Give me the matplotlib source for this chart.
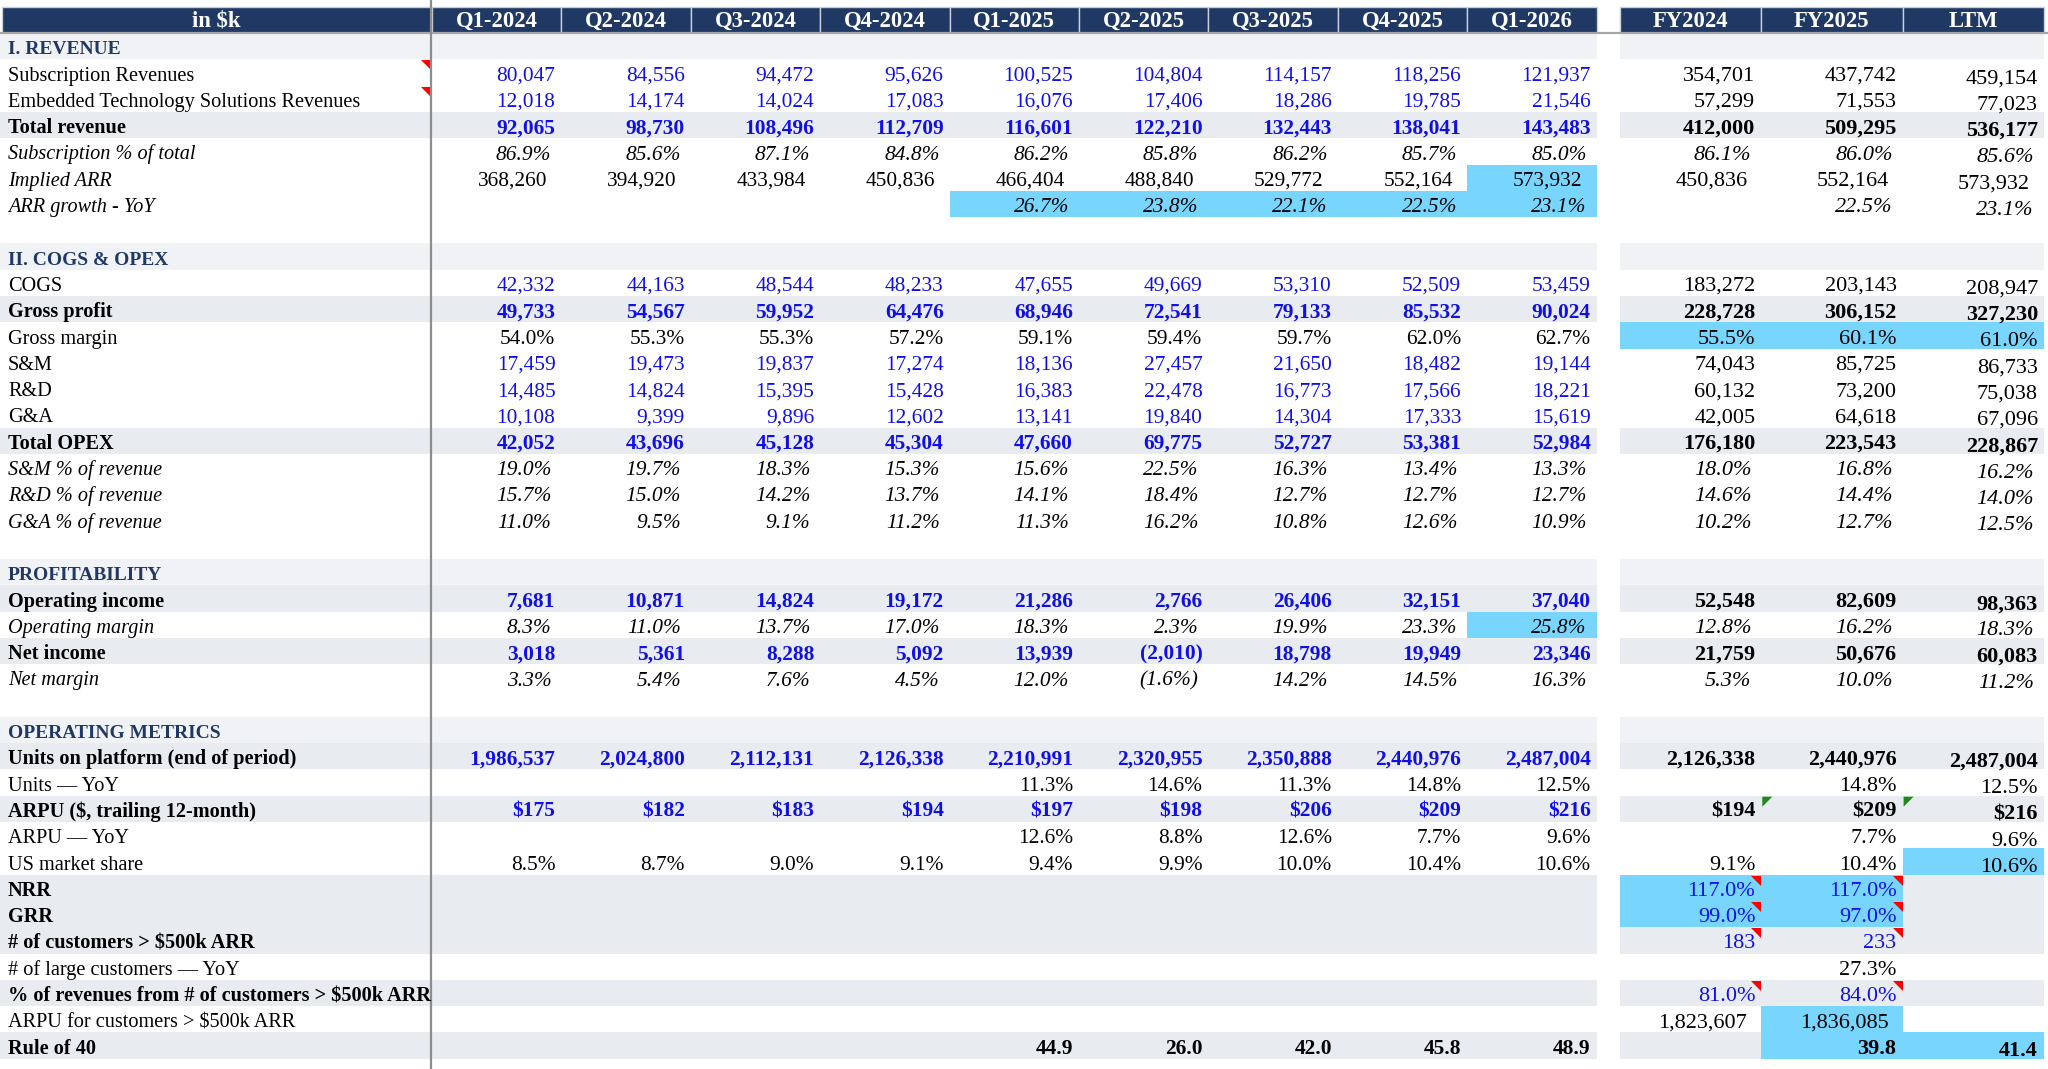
import matplotlib
matplotlib.use("Agg")
import matplotlib.pyplot as plt
from matplotlib.patches import Rectangle, Polygon

plt.rcParams['font.family'] = ['Liberation Serif', 'DejaVu Serif']

# ---- data -------------------------------------------------------------
quarters = ['Q1-2024', 'Q2-2024', 'Q3-2024', 'Q4-2024', 'Q1-2025',
            'Q2-2025', 'Q3-2025', 'Q4-2025', 'Q1-2026']
periods = ['FY2024', 'FY2025', 'LTM']
N = None

sub_rev = [80047, 84556, 94472, 95626, 100525, 104804, 114157, 118256, 121937]
emb_rev = [12018, 14174, 14024, 17083, 16076, 17406, 18286, 19785, 21546]
total_rev = [92065, 98730, 108496, 112709, 116601, 122210, 132443, 138041, 143483]
sub_pct = [86.9, 85.6, 87.1, 84.8, 86.2, 85.8, 86.2, 85.7, 85.0]
implied_arr = [368260, 394920, 433984, 450836, 466404, 488840, 529772, 552164, 573932]
arr_growth = [N, N, N, N, 26.7, 23.8, 22.1, 22.5, 23.1]
cogs = [42332, 44163, 48544, 48233, 47655, 49669, 53310, 52509, 53459]
gross_profit = [49733, 54567, 59952, 64476, 68946, 72541, 79133, 85532, 90024]
gross_margin = [54.0, 55.3, 55.3, 57.2, 59.1, 59.4, 59.7, 62.0, 62.7]
sm = [17459, 19473, 19837, 17274, 18136, 27457, 21650, 18482, 19144]
rd = [14485, 14824, 15395, 15428, 16383, 22478, 16773, 17566, 18221]
ga = [10108, 9399, 9896, 12602, 13141, 19840, 14304, 17333, 15619]
total_opex = [42052, 43696, 45128, 45304, 47660, 69775, 52727, 53381, 52984]
sm_pct = [19.0, 19.7, 18.3, 15.3, 15.6, 22.5, 16.3, 13.4, 13.3]
rd_pct = [15.7, 15.0, 14.2, 13.7, 14.1, 18.4, 12.7, 12.7, 12.7]
ga_pct = [11.0, 9.5, 9.1, 11.2, 11.3, 16.2, 10.8, 12.6, 10.9]
op_income = [7681, 10871, 14824, 19172, 21286, 2766, 26406, 32151, 37040]
op_margin = [8.3, 11.0, 13.7, 17.0, 18.3, 2.3, 19.9, 23.3, 25.8]
net_income = [3018, 5361, 8288, 5092, 13939, -2010, 18798, 19949, 23346]
net_margin = [3.3, 5.4, 7.6, 4.5, 12.0, -1.6, 14.2, 14.5, 16.3]
units = [1986537, 2024800, 2112131, 2126338, 2210991, 2320955, 2350888, 2440976, 2487004]
units_yoy = [N, N, N, N, 11.3, 14.6, 11.3, 14.8, 12.5]
arpu = [175, 182, 183, 194, 197, 198, 206, 209, 216]
arpu_yoy = [N, N, N, N, 12.6, 8.8, 12.6, 7.7, 9.6]
market_share = [8.5, 8.7, 9.0, 9.1, 9.4, 9.9, 10.0, 10.4, 10.6]
rule40 = [N, N, N, N, 44.9, 26.0, 42.0, 45.8, 48.9]
empty_q = [N] * 9

fy_sub_rev = [354701, 437742, 459154]
fy_emb_rev = [57299, 71553, 77023]
fy_total_rev = [412000, 509295, 536177]
fy_sub_pct = [86.1, 86.0, 85.6]
fy_implied_arr = [450836, 552164, 573932]
fy_arr_growth = [N, 22.5, 23.1]
fy_cogs = [183272, 203143, 208947]
fy_gross_profit = [228728, 306152, 327230]
fy_gross_margin = [55.5, 60.1, 61.0]
fy_sm = [74043, 85725, 86733]
fy_rd = [60132, 73200, 75038]
fy_ga = [42005, 64618, 67096]
fy_total_opex = [176180, 223543, 228867]
fy_sm_pct = [18.0, 16.8, 16.2]
fy_rd_pct = [14.6, 14.4, 14.0]
fy_ga_pct = [10.2, 12.7, 12.5]
fy_op_income = [52548, 82609, 98363]
fy_op_margin = [12.8, 16.2, 18.3]
fy_net_income = [21759, 50676, 60083]
fy_net_margin = [5.3, 10.0, 11.2]
fy_units = [2126338, 2440976, 2487004]
fy_units_yoy = [N, 14.8, 12.5]
fy_arpu = [194, 209, 216]
fy_arpu_yoy = [N, 7.7, 9.6]
fy_market_share = [9.1, 10.4, 10.6]
fy_nrr = [117.0, 117.0, N]
fy_grr = [99.0, 97.0, N]
fy_big_customers = [183, 233, N]
fy_big_customers_yoy = [N, 27.3, N]
fy_big_rev_pct = [81.0, 84.0, N]
fy_big_arpu = [1823607, 1836085, N]
fy_rule40 = [N, 39.8, 41.4]
empty_fy = [N] * 3

# row: label, label style, band, format, q values, fy values,
#      q blue, fy blue, value weight, value italic, right pad (q, fy)
P0 = (6, 6)
PI = (10, 10)
rows = [
    ('I. REVENUE', 'sec', 'sec', 'num', empty_q, empty_fy, 0, 0, 'normal', 0, P0),
    ('Subscription Revenues', 'reg', None, 'num', sub_rev, fy_sub_rev, 1, 0, 'normal', 0, P0),
    ('Embedded Technology Solutions Revenues', 'reg', None, 'num', emb_rev, fy_emb_rev, 1, 0, 'normal', 0, P0),
    ('Total revenue', 'bold', 'band', 'num', total_rev, fy_total_rev, 1, 0, 'bold', 0, P0),
    ('Subscription % of total', 'ital', None, 'pct', sub_pct, fy_sub_pct, 0, 0, 'normal', 1, PI),
    ('Implied ARR', 'ital', None, 'num', implied_arr, fy_implied_arr, 0, 0, 'normal', 0, (14, 14)),
    ('ARR growth - YoY', 'ital', None, 'pct', arr_growth, fy_arr_growth, 0, 0, 'normal', 1, PI),
    ('', 'reg', None, 'num', empty_q, empty_fy, 0, 0, 'normal', 0, P0),
    ('II. COGS & OPEX', 'sec', 'sec', 'num', empty_q, empty_fy, 0, 0, 'normal', 0, P0),
    ('COGS', 'reg', None, 'num', cogs, fy_cogs, 1, 0, 'normal', 0, P0),
    ('Gross profit', 'bold', 'band', 'num', gross_profit, fy_gross_profit, 1, 0, 'bold', 0, P0),
    ('Gross margin', 'reg', None, 'pct', gross_margin, fy_gross_margin, 0, 0, 'normal', 0, P0),
    ('S&M', 'reg', None, 'num', sm, fy_sm, 1, 0, 'normal', 0, P0),
    ('R&D', 'reg', None, 'num', rd, fy_rd, 1, 0, 'normal', 0, P0),
    ('G&A', 'reg', None, 'num', ga, fy_ga, 1, 0, 'normal', 0, P0),
    ('Total OPEX', 'bold', 'band', 'num', total_opex, fy_total_opex, 1, 0, 'bold', 0, P0),
    ('S&M % of revenue', 'ital', None, 'pct', sm_pct, fy_sm_pct, 0, 0, 'normal', 1, PI),
    ('R&D % of revenue', 'ital', None, 'pct', rd_pct, fy_rd_pct, 0, 0, 'normal', 1, PI),
    ('G&A % of revenue', 'ital', None, 'pct', ga_pct, fy_ga_pct, 0, 0, 'normal', 1, PI),
    ('', 'reg', None, 'num', empty_q, empty_fy, 0, 0, 'normal', 0, P0),
    ('PROFITABILITY', 'sec', 'sec', 'num', empty_q, empty_fy, 0, 0, 'normal', 0, P0),
    ('Operating income', 'bold', 'band', 'num', op_income, fy_op_income, 1, 0, 'bold', 0, P0),
    ('Operating margin', 'ital', None, 'pct', op_margin, fy_op_margin, 0, 0, 'normal', 1, PI),
    ('Net income', 'bold', 'band', 'num', net_income, fy_net_income, 1, 0, 'bold', 0, P0),
    ('Net margin', 'ital', None, 'pct', net_margin, fy_net_margin, 0, 0, 'normal', 1, PI),
    ('', 'reg', None, 'num', empty_q, empty_fy, 0, 0, 'normal', 0, P0),
    ('OPERATING METRICS', 'sec', 'sec', 'num', empty_q, empty_fy, 0, 0, 'normal', 0, P0),
    ('Units on platform (end of period)', 'bold', 'band', 'num', units, fy_units, 1, 0, 'bold', 0, P0),
    ('Units \u2014 YoY', 'reg', None, 'pct', units_yoy, fy_units_yoy, 0, 0, 'normal', 0, P0),
    ('ARPU ($, trailing 12-month)', 'bold', 'band', 'usd', arpu, fy_arpu, 1, 0, 'bold', 0, P0),
    ('ARPU \u2014 YoY', 'reg', None, 'pct', arpu_yoy, fy_arpu_yoy, 0, 0, 'normal', 0, P0),
    ('US market share', 'reg', None, 'pct', market_share, fy_market_share, 0, 0, 'normal', 0, P0),
    ('NRR', 'bold', 'band', 'pct', empty_q, fy_nrr, 0, 1, 'normal', 0, P0),
    ('GRR', 'bold', 'band', 'pct', empty_q, fy_grr, 0, 1, 'normal', 0, P0),
    ('# of customers > $500k ARR', 'bold', 'band', 'num', empty_q, fy_big_customers, 0, 1, 'normal', 0, P0),
    ('# of large customers \u2014 YoY', 'reg', None, 'pct', empty_q, fy_big_customers_yoy, 0, 0, 'normal', 0, P0),
    ('% of revenues from # of customers > $500k ARR', 'bold', 'band', 'pct', empty_q, fy_big_rev_pct, 0, 1, 'normal', 0, P0),
    ('ARPU for customers > $500k ARR', 'reg', None, 'num', empty_q, fy_big_arpu, 0, 0, 'normal', 0, (6, 14)),
    ('Rule of 40', 'bold', 'band', 'dec', rule40, fy_rule40, 0, 0, 'bold', 0, P0),
]

# highlighted cells: (row index, column key)  q0..q8 / f0..f2
highlights = [(5, 'q8'), (6, 'q4'), (6, 'q5'), (6, 'q6'), (6, 'q7'), (6, 'q8'),
              (11, 'f0'), (11, 'f1'), (11, 'f2'), (22, 'q8'), (31, 'f2'),
              (32, 'f0'), (32, 'f1'), (33, 'f0'), (33, 'f1'),
              (37, 'f1'), (38, 'f1'), (38, 'f2')]
red_marks = [(1, 'label'), (2, 'label'), (32, 'f0'), (32, 'f1'), (33, 'f0'),
             (33, 'f1'), (34, 'f0'), (34, 'f1'), (36, 'f0'), (36, 'f1')]
green_marks = [(29, 'f1'), (29, 'f2')]

# ---- layout ------------------------------------------------------------
W, H = 2048, 1069
NAVY = '#1F3864'
BAND = '#E8ECF1'
SEC_BAND = '#F0F2F6'
CYAN = '#78D5FE'
BLUE = '#1010E6'
label_w = 431
q_left, q_w = 432, 129.4
fy_left, fy_w = 1620, 141.3
head_top, head_bot = 7, 32.5
row_top, row_h = 33, 26.3
fs_q = 15.4
fs_fy = 16
fs_lab = 14.6
fs_sec = 14
fs_head = 16.3


def col_span(key):
    if key == 'label':
        return 0, label_w
    i = int(key[1:])
    if key[0] == 'q':
        return q_left + i * q_w, q_left + (i + 1) * q_w
    return fy_left + i * fy_w, fy_left + (i + 1) * fy_w


def fmt(v, kind):
    if v is None:
        return ''
    if kind == 'num':
        s = f'{abs(v):,.0f}'
    elif kind == 'pct':
        s = f'{abs(v):.1f}%'
    elif kind == 'usd':
        s = f'${abs(v):,.0f}'
    else:
        s = f'{abs(v):.1f}'
    return f'({s})' if v < 0 else s


fig = plt.figure(figsize=(W / 100, H / 100), dpi=100)
ax = fig.add_axes([0, 0, 1, 1])
ax.set_xlim(0, W)
ax.set_ylim(H, 0)
ax.axis('off')

# header
header_cells = [('label', 'in $k')] + [(f'q{i}', q) for i, q in enumerate(quarters)] + \
               [(f'f{i}', p) for i, p in enumerate(periods)]
for key, txt in header_cells:
    x0, x1 = col_span(key)
    if key == 'label':
        x0 = 2
    ax.add_patch(Rectangle((x0, head_top), x1 - x0, head_bot - head_top,
                           facecolor=NAVY, edgecolor='#C9CED8', lw=1.0))
    ax.text((x0 + x1) / 2, head_top + 20, txt, color='white', fontsize=fs_head,
            fontweight='bold', ha='center', va='baseline')
ax.plot([0, W], [head_bot + 0.8, head_bot + 0.8], color='#A6A6A6', lw=1.6)

for r, (label, lstyle, band, kind, qv, fv, qblue, fblue, vw, vit, pad) in enumerate(rows):
    top = row_top + r * row_h
    base = top + 21.3
    if band:
        color = SEC_BAND if band == 'sec' else BAND
        ax.add_patch(Rectangle((0, top), q_left + 9 * q_w, row_h, facecolor=color, lw=0))
        ax.add_patch(Rectangle((fy_left, top), 3 * fy_w, row_h, facecolor=color, lw=0))
    for hr, key in highlights:
        if hr == r:
            x0, x1 = col_span(key)
            ax.add_patch(Rectangle((x0, top), x1 - x0, row_h, facecolor=CYAN, lw=0))

    # label
    if lstyle == 'sec':
        ax.text(8, base, label, color=NAVY, fontsize=fs_sec, fontweight='bold', va='baseline')
    else:
        ax.text(8, base, label, color='black', fontsize=fs_lab,
                fontweight='bold' if lstyle == 'bold' else 'normal',
                fontstyle='italic' if lstyle == 'ital' else 'normal', va='baseline')

    vals = [(f'q{i}', v, qblue) for i, v in enumerate(qv)] + \
           [(f'f{i}', v, fblue) for i, v in enumerate(fv)]
    for key, v, blue in vals:
        s = fmt(v, kind)
        if not s:
            continue
        x0, x1 = col_span(key)
        dy = 2.5 if key == 'f2' else 0
        p = pad[0] if key[0] == 'q' else pad[1]
        ax.text(x1 - p, base + dy, s, color=BLUE if blue else 'black',
                fontsize=fs_q if key[0] == 'q' else fs_fy,
                fontweight=vw, fontstyle='italic' if vit else 'normal',
                ha='right', va='baseline')

    for mr, key in red_marks:
        if mr == r:
            x0, x1 = col_span(key)
            ax.add_patch(Polygon([(x1 - 10, top + 1), (x1, top + 1), (x1, top + 11)],
                                 closed=True, facecolor='#FF0000', lw=0))
    for mr, key in green_marks:
        if mr == r:
            x0, x1 = col_span(key)
            ax.add_patch(Polygon([(x0 + 1, top + 1), (x0 + 11, top + 1), (x0 + 1, top + 11)],
                                 closed=True, facecolor='#1E8A1E', lw=0))

# vertical divider after the label column
ax.plot([label_w, label_w], [0, H], color='#8C8C8C', lw=1.6)

fig.savefig('out.png', dpi=100)
